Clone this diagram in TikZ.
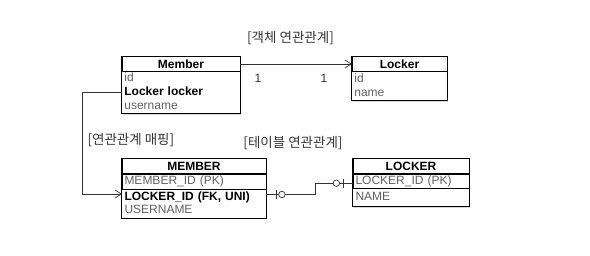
\documentclass[tikz,border=0pt]{standalone}
\usepackage{fontspec}
\setmainfont{Liberation Sans}
\newfontfamily\kr{Noto Sans CJK KR}
\usetikzlibrary{arrows.meta,positioning,calc,fit,backgrounds,shadows}

\begin{document}
\begin{tikzpicture}[
  x=1pt, y=-1pt,
  font=\fontsize{12}{13}\selectfont,
  head/.style={draw, line width=0.7pt, minimum width=#1, minimum height=15pt,
    inner sep=0pt, align=center, font=\fontsize{12}{13}\selectfont\bfseries},
  row/.style={inner xsep=2.5pt, inner ysep=0pt, text width=#1, align=left,
    text=black!62, minimum height=13.5pt, text height=9pt, text depth=3pt},
  pk/.style={draw, line width=0.7pt},
  key/.style={text=black, font=\fontsize{12}{13}\selectfont\bfseries},
  tbl/.style={draw, line width=0.7pt, fill=white, inner sep=0pt,
    drop shadow={shadow xshift=1pt, shadow yshift=-1.5pt, fill=black!30}},
  link/.style={draw=black!80, line width=0.7pt},
  barb/.style={-{Straight Barb[length=6pt,width=8pt]}},
  ring/.style={circle, draw=black!80, line width=0.7pt, fill=white,
    minimum size=6.5pt, inner sep=0pt},
  kor/.style={font=\kr\fontsize{13.5}{15}\selectfont, text=black!80},
  card/.style={text=black!80}
]
  \useasboundingbox (0,0) rectangle (590,255);

  % objects
  \node[head=118pt] (member) at (181,64) {Member};
  \node[row=113pt, anchor=north west] (mid) at (member.south west) {id};
  \node[row=113pt, key, below=0pt of mid] (mlocker) {Locker locker};
  \node[row=113pt, below=0pt of mlocker] (muser) {username};

  \node[head=95pt] (locker) at (399.5,64) {Locker};
  \node[row=90pt, minimum height=14pt, anchor=north west] (lid) at (locker.south west) {id};
  \node[row=90pt, minimum height=14pt, below=0pt of lid] (lname) {name};

  % tables
  \node[head=144pt] (mtable) at (194,166) {MEMBER};
  \node[row=139pt, pk, minimum height=15.5pt, anchor=north west] (mrid) at (mtable.south west) {MEMBER\_ID (PK)};
  \node[row=139pt, key, below=0pt of mrid] (mrlocker) {LOCKER\_ID (FK, UNI)};
  \node[row=139pt, below=0pt of mrlocker] (mruser) {USERNAME};

  \node[head=116pt] (ltable) at (411,166) {LOCKER};
  \node[row=111pt, pk, minimum height=14pt, anchor=north west] (lrid) at (ltable.south west) {LOCKER\_ID (PK)};
  \node[row=111pt, minimum height=17.5pt, below=0pt of lrid] (lrname) {NAME};

  \begin{scope}[on background layer]
    \node[tbl, fit=(member)(muser)] (memberbox) {};
    \node[tbl, fit=(locker)(lname)] (lockerbox) {};
    \node[tbl, fit=(mtable)(mruser)] (mtablebox) {};
    \node[tbl, fit=(ltable)(lrname)] (ltablebox) {};
  \end{scope}

  \node[kor] (objrel) at (290.5,38) {[객체 연관관계]};
  \node[kor, anchor=west] (maprel) at (84,140) {[연관관계 매핑]};
  \node[kor] (tablerel) at (293,143) {[테이블 연관관계]};
  \node[card] (card1) at (258,78) {1};
  \node[card] (card2) at (324,78) {1};

  \draw[link, barb] (member) -- (locker);
  \draw[link, barb] (mlocker.west) -- ++(-39,0) |- ([yshift=3pt]mrlocker.west);

  \coordinate (fkend) at ([yshift=2.5pt]mrlocker.east);
  \coordinate (pkend) at ([yshift=-2pt]lrid.west);
  \draw[link] (fkend) -- ++(49,0) |- (pkend);
  \draw[link] ([xshift=10pt]fkend) ++(0,-4.5) -- ++(0,9);
  \node[ring] (fkring) at ([xshift=15.7pt]fkend) {};
  \draw[link] ([xshift=-9.7pt]pkend) ++(0,-4.5) -- ++(0,9);
  \node[ring] (pkring) at ([xshift=-16.3pt]pkend) {};
\end{tikzpicture}
\end{document}
